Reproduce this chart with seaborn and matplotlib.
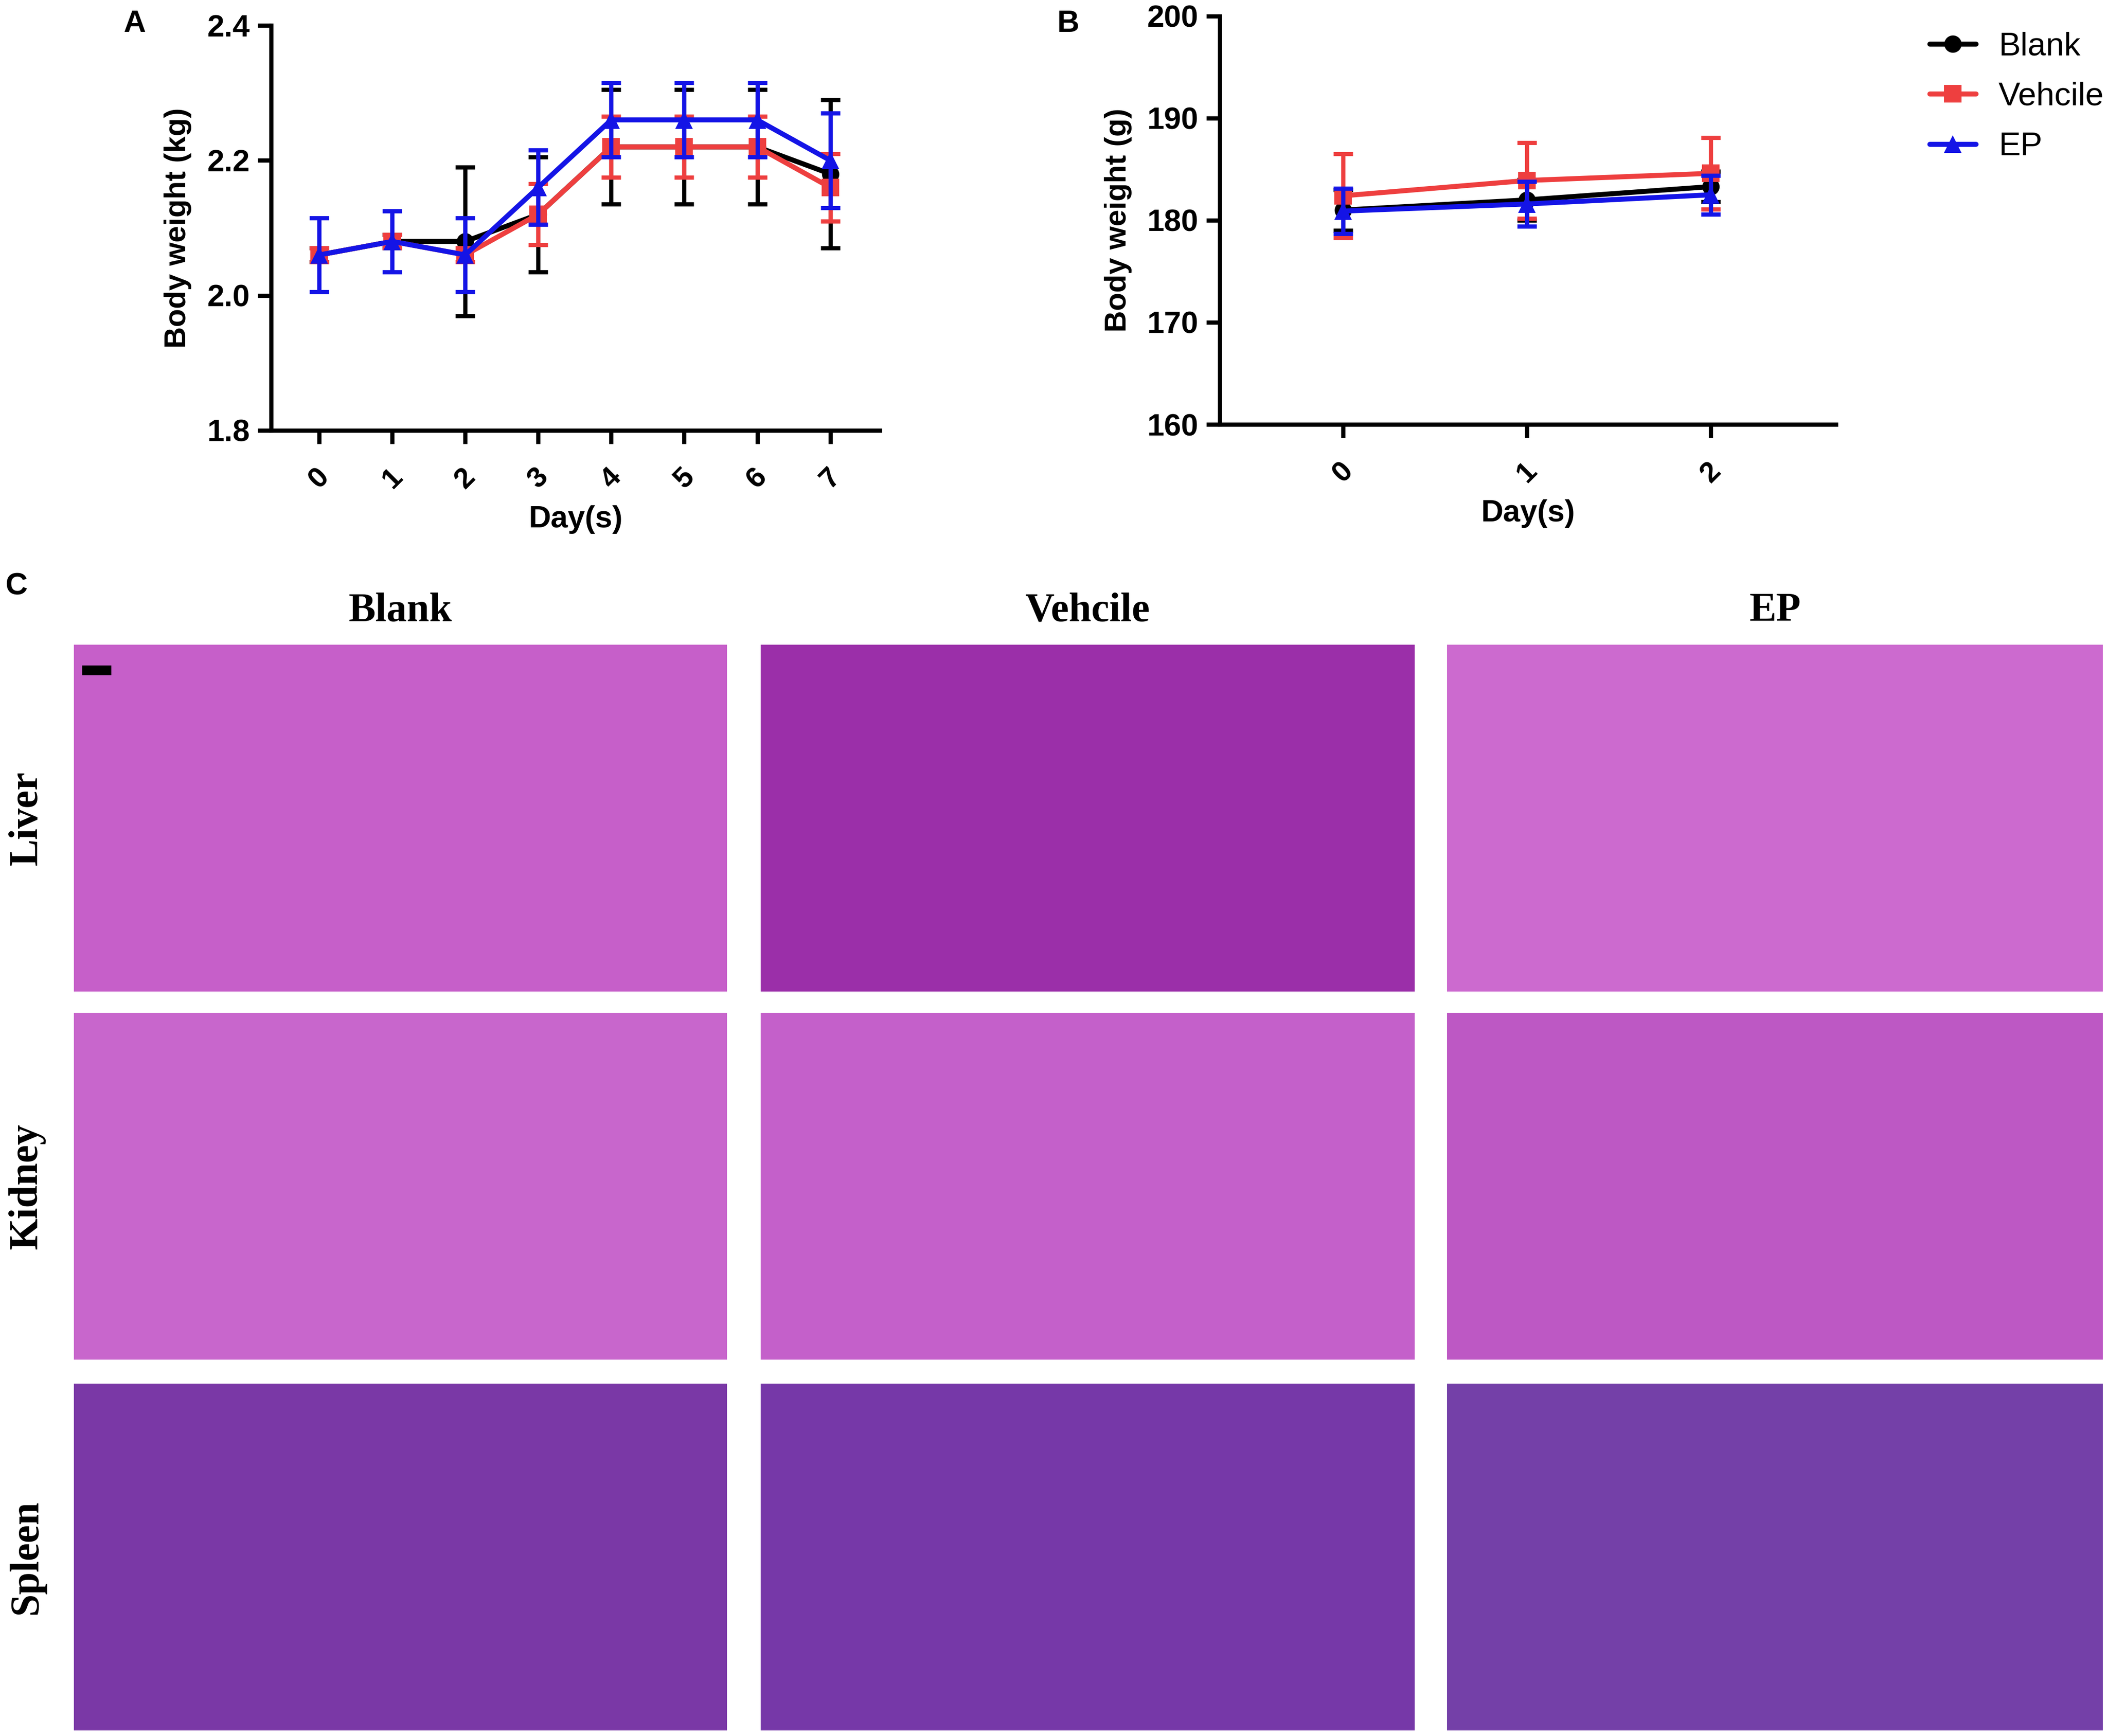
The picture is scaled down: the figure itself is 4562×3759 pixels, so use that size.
import pandas as pd
import numpy as np
import seaborn as sns
import matplotlib.pyplot as plt
from matplotlib.patches import Rectangle

groups = ['Blank', 'Vehcile', 'EP']
colors = {'Blank': '#000000', 'Vehcile': '#EE3F3F', 'EP': '#1414E6'}
markers = {'Blank': 'o', 'Vehcile': 's', 'EP': '^'}

# panel A, rabbits (kg)
days_a = [0, 1, 2, 3, 4, 5, 6, 7]
blank_a = [2.06, 2.08, 2.08, 2.12, 2.22, 2.22, 2.22, 2.18]
blank_a_sd = [0.01, 0.01, 0.11, 0.085, 0.085, 0.085, 0.085, 0.11]
veh_a = [2.06, 2.08, 2.06, 2.12, 2.22, 2.22, 2.22, 2.16]
veh_a_sd = [0.01, 0.01, 0.01, 0.045, 0.045, 0.045, 0.045, 0.05]
ep_a = [2.06, 2.08, 2.06, 2.16, 2.26, 2.26, 2.26, 2.20]
ep_a_sd = [0.055, 0.045, 0.055, 0.055, 0.055, 0.055, 0.055, 0.07]

# panel B, rats (g)
days_b = [0, 1, 2]
blank_b = [181.0, 182.0, 183.3]
blank_b_sd = [2.0, 2.0, 1.5]
veh_b = [182.4, 183.9, 184.6]
veh_b_sd = [4.1, 3.7, 3.5]
ep_b = [180.9, 181.6, 182.5]
ep_b_sd = [2.2, 2.2, 1.9]

# panel C, H&E sections
organs = ['Liver', 'Kidney', 'Spleen']
tissue_colors = [['#C65FC9', '#9B2FA9', '#CC6ACF'],
                 ['#C866CC', '#C460CA', '#BD58C4'],
                 ['#7A38A6', '#7638A8', '#7440A8']]

sns.set_theme(style='ticks')
plt.rcParams['font.family'] = ['Liberation Sans', 'DejaVu Sans']
plt.rcParams['text.color'] = 'black'
plt.rcParams['axes.labelcolor'] = 'black'
plt.rcParams['xtick.color'] = 'black'
plt.rcParams['ytick.color'] = 'black'
narrow = ['Liberation Sans Narrow', 'Liberation Sans', 'DejaVu Sans']

W, H = 4562, 3759
fig = plt.figure(figsize=(W / 300, H / 300), dpi=300)


def px_axes(x0, y0, x1, y1):
    return fig.add_axes([x0 / W, 1 - y1 / H, (x1 - x0) / W, (y1 - y0) / H])


def make_df(days, vals, sds):
    rows = []
    for g, v, s in zip(groups, vals, sds):
        for d, m, e in zip(days, v, s):
            rows.append({'Day': d, 'Weight': m, 'SD': e, 'Group': g})
    return pd.DataFrame(rows)


def weight_plot(ax, df, ylim, yticks, ylabel, xlim, fmt, legend):
    for g in groups:
        sub = df[df['Group'] == g]
        ax.errorbar(sub['Day'], sub['Weight'], yerr=sub['SD'], fmt='none',
                    ecolor=colors[g], elinewidth=2.2, capsize=5, capthick=2.2)
        sns.lineplot(data=sub, x='Day', y='Weight', color=colors[g], marker=markers[g],
                     markersize=9, markeredgewidth=0, linewidth=2.6, ax=ax,
                     label=g, legend=legend)
    ax.set_xlim(*xlim)
    ax.set_ylim(*ylim)
    ax.set_yticks(yticks)
    ax.set_yticklabels([fmt.format(t) for t in yticks], family=narrow,
                       fontweight='bold', fontsize=16)
    ax.set_xticks(sorted(df['Day'].unique()))
    ax.set_xticklabels([str(d) for d in sorted(df['Day'].unique())], rotation=45,
                       fontsize=15, fontweight='bold', ha='center', va='top')
    ax.set_xlabel('Day(s)', fontsize=16, fontweight='bold', family=narrow, labelpad=6)
    ax.set_ylabel(ylabel, fontsize=15.5, fontweight='bold', labelpad=8)
    sns.despine(ax=ax)
    for sp in ['left', 'bottom']:
        ax.spines[sp].set_linewidth(2.2)
        ax.spines[sp].set_color('black')
    ax.tick_params(axis='both', width=2.2, length=7, color='black', pad=4)
    ax.tick_params(axis='x', pad=10)
    ax.grid(False)


ax_a = px_axes(587, 55, 1905, 932)
df_a = make_df(days_a, [blank_a, veh_a, ep_a], [blank_a_sd, veh_a_sd, ep_a_sd])
weight_plot(ax_a, df_a, (1.8, 2.4), [1.8, 2.0, 2.2, 2.4], 'Body weight (kg)',
            (-0.66, 7.68), '{:.1f}', False)

ax_b = px_axes(2641, 35, 3975, 919)
df_b = make_df(days_b, [blank_b, veh_b, ep_b], [blank_b_sd, veh_b_sd, ep_b_sd])
weight_plot(ax_b, df_b, (160, 200), [160, 170, 180, 190, 200], 'Body weight (g)',
            (-0.67, 2.68), '{:.0f}', True)
leg = ax_b.legend(loc='upper left', bbox_to_anchor=(4150 / W, 1 - 40 / H),
                  bbox_transform=fig.transFigure, frameon=False, handlelength=1.4,
                  labelspacing=0.6, handletextpad=0.7, borderaxespad=0,
                  prop={'family': narrow, 'size': 17})

fig.text(291 / W, 1 - 52 / H, 'A', fontsize=16, fontweight='bold', ha='center', va='center')
fig.text(2313 / W, 1 - 52 / H, 'B', fontsize=16, fontweight='bold', ha='center', va='center')
fig.text(35 / W, 1 - 1271 / H, 'C', fontsize=16, fontweight='bold', ha='center', va='center')

col_x = [(160, 1574), (1647, 3063), (3133, 4553)]
row_y = [(1396, 2147), (2193, 2944), (2996, 3747)]
for j, g in enumerate(groups):
    xc = (col_x[j][0] + col_x[j][1]) / 2
    fig.text(xc / W, 1 - 1323 / H, g, fontsize=21, fontweight='bold',
             family=['Liberation Serif', 'DejaVu Serif'], ha='center', va='center')
for i, organ in enumerate(organs):
    yc = (row_y[i][0] + row_y[i][1]) / 2
    fig.text(58 / W, 1 - yc / H, organ, fontsize=21, fontweight='bold', rotation=90,
             family=['Liberation Serif', 'DejaVu Serif'], ha='center', va='center')
    for j in range(3):
        ax = px_axes(col_x[j][0], row_y[i][0], col_x[j][1], row_y[i][1])
        ax.set_facecolor(tissue_colors[i][j])
        ax.set_xticks([])
        ax.set_yticks([])
        for sp in ax.spines.values():
            sp.set_visible(False)
        if i == 0 and j == 0:
            ax.add_patch(Rectangle((0.014, 0.915), 0.042, 0.022, color='black',
                                   transform=ax.transAxes))

fig.savefig('out.png', dpi=300)
